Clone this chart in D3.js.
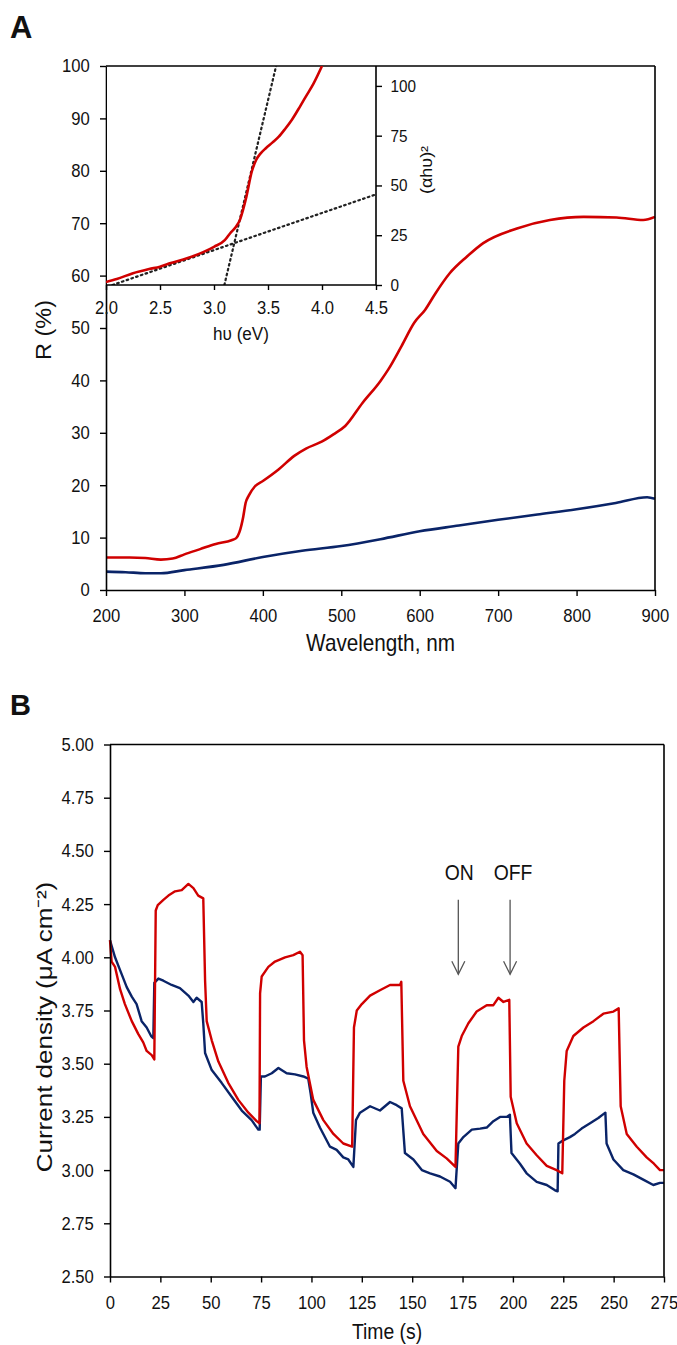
<!DOCTYPE html>
<html><head><meta charset="utf-8">
<script src="https://cdn.jsdelivr.net/npm/d3@7"></script>
<style>
html,body{margin:0;padding:0;background:#fff;}
svg{display:block;}
text{font-family:"Liberation Sans",Arial,sans-serif;fill:#111;}
</style></head>
<body>
<script>
// ---------- Panel A data ----------
const wlRed = [200,230,250,270,285,300,320,340,360,366,370,375,378,382,390,400,420,440,455,475,490,505,527,550,560,577,593,607,620,638,660,681,724,766,809,851,885,900];
const rRed  = [6.2,6.2,6.1,5.8,6.0,6.8,7.8,8.8,9.5,9.9,11,14,16.6,18,19.8,20.8,23,25.6,27,28.3,29.7,31.3,35.7,39.9,42.1,46.6,51,53.5,56.6,60.4,63.6,66.2,69,70.6,71.2,71.1,70.6,71.2];
const wlBlue = [200,225,250,270,300,350,400,450,500,550,600,650,700,750,800,850,890,900];
const rBlue  = [3.5,3.4,3.2,3.2,3.8,4.8,6.3,7.5,8.4,9.7,11.2,12.3,13.4,14.4,15.4,16.6,17.7,17.4];
const xTicksA = [200,300,400,500,600,700,800,900];
const yTicksA = [0,10,20,30,40,50,60,70,80,90,100];

// inset (Tauc plot)
const hvTauc = [2.0,2.1,2.25,2.4,2.5,2.6,2.75,2.9,3.0,3.1,3.15,3.2,3.24,3.27,3.3,3.35,3.39,3.43,3.48,3.54,3.6,3.66,3.72,3.8,3.85,3.92,4.0];
const tauc   = [1.5,3,5.9,8,9.2,11,13.4,16.5,19.2,22.5,26,29,32.7,38,44.4,57,62.8,66,68.7,71.5,74.5,78.5,82.9,90,94.6,101,110];
const fitSteep   = [[3.096,0],[3.575,110]];
const fitShallow = [[2.06,0],[4.5,45.5]];
const insetXTicks = [2.0,2.5,3.0,3.5,4.0,4.5];
const insetYTicks = [0,25,50,75,100];

// ---------- Panel B data ----------
const tRed = [0,0.8,2.5,5,7.4,10.8,14,16.5,18.2,20.7,22, 22.7,23.7,26.5,29,32.3,35.6,38.9,41.4,43.8,46.3, 47.2,48,50.5,53.8,58.7,63.7,68.7,72.8,74.2, 74.5,75.3,78.6,81.9,86.9,91,94.3,95.6, 96.3,97.6,100.9,105.9,110.9,115.8,120.2, 121.1,122.5,125,129.1,134,139,144,144.6, 145.6,148.9,155.5,162.2,167.1,171.5, 172.9,174.6,177.9,182,187,190.3,192.8,195.3,198.2, 198.9,201.9,206.8,211.8,216.8,221.7,224.5, 225.5,226.7,230,235,240,244.9,249.9,252.5, 253.5,256.5,261.5,266.4,270,273,275];
const vRed = [4.08,3.98,3.955,3.85,3.78,3.70,3.64,3.60,3.56,3.54,3.52, 4.22,4.245,4.27,4.29,4.31,4.316,4.345,4.325,4.29,4.277, 3.89,3.70,3.61,3.51,3.41,3.33,3.27,3.23,3.22, 3.83,3.91,3.955,3.98,4.00,4.01,4.026,4.01, 3.61,3.485,3.33,3.235,3.17,3.125,3.11, 3.67,3.75,3.78,3.82,3.845,3.87,3.87,3.885, 3.42,3.30,3.17,3.09,3.055,3.015, 3.58,3.63,3.69,3.745,3.775,3.775,3.81,3.79,3.80, 3.345,3.22,3.125,3.07,3.02,3.00,2.985, 3.42,3.56,3.63,3.67,3.70,3.735,3.745,3.76, 3.30,3.17,3.11,3.06,3.03,3.00,3.00];
const tBlue = [0,2.5,5,8.3,10.8,13.2,15.7,18.2,20.4,21.5, 22,24,26.5,30.6,34.7,38.9,41.4,43,45.5, 46.3,47.2,50.5,55.4,60.4,65.4,70.3,73.6,74.3, 74.9,76.9,80.3,83.6,87.7,91.8,96,98.4, 99.6,100.9,104.2,109.2,112.5,115.8,118.3,120.8, 122.1,124.1,129.1,134,139,142.3,144.8, 146.4,150.6,154.8,158.9,163.8,168.8,171.5, 172.9,175.4,179.6,183.7,187,190.3,193.6,196.9,198.5, 199.3,203.5,206.8,211.8,216.8,220.9,222.2, 222.6,225,228.3,230.8,234.1,238.3,242.4,245.9, 246.5,249.9,254.8,259.8,264.7,269.7,273,275];
const vBlue = [4.08,4.00,3.94,3.86,3.815,3.78,3.70,3.67,3.63,3.62, 3.88,3.90,3.89,3.87,3.855,3.82,3.79,3.81,3.79, 3.69,3.55,3.47,3.41,3.345,3.28,3.235,3.19,3.19, 3.44,3.44,3.455,3.48,3.455,3.45,3.44,3.43, 3.36,3.27,3.20,3.11,3.095,3.06,3.05,3.015, 3.235,3.27,3.30,3.28,3.32,3.305,3.29, 3.08,3.05,3.00,2.985,2.97,2.945,2.915, 3.125,3.155,3.19,3.195,3.20,3.23,3.25,3.25,3.26, 3.08,3.03,2.985,2.945,2.93,2.905,2.90, 3.125,3.14,3.155,3.17,3.195,3.22,3.245,3.27, 3.125,3.05,3.00,2.98,2.955,2.93,2.94,2.94];
const xTicksB = [0,25,50,75,100,125,150,175,200,225,250,275];
const yTicksB = [2.50,2.75,3.00,3.25,3.50,3.75,4.00,4.25,4.50,4.75,5.00];
const arrowLabels = ["ON","OFF"];
const arrowTimes = [172.9,198.6];
const arrowFrom = 4.27, arrowTo = 3.92, arrowLabelV = 4.363;

const RED = "#d00000", BLUE = "#0a2468";
const SQ = 0.9; // horizontal squeeze of the original lettering

const svg = d3.select("body").append("svg").attr("width",677).attr("height",1345);
svg.append("rect").attr("width",677).attr("height",1345).attr("fill","#fff");

function styleAxis(g, fs){
  g.selectAll("path.domain").attr("stroke","#000").attr("stroke-width",1.6);
  g.selectAll(".tick line").attr("stroke","#000").attr("stroke-width",1.4);
  g.selectAll(".tick text").attr("font-size",fs).attr("fill","#111")
   .attr("font-family",'"Liberation Sans",Arial,sans-serif')
   .attr("transform",`scale(${SQ},1)`);
}
function label(x,y,txt,fs,opts={}){
  const rot = opts.rotate ? " rotate(-90)" : "";
  return svg.append("text").attr("transform",`translate(${x},${y}) scale(${opts.sq||SQ},1)${rot}`)
    .attr("text-anchor",opts.anchor||"middle").attr("font-size",fs)
    .attr("font-weight",opts.bold?"bold":null).attr("fill",opts.fill||"#111").text(txt);
}

// ================= Panel A =================
const A = {l:106, r:655, t:66, b:590};
const xA = d3.scaleLinear().domain([200,900]).range([A.l,A.r]);
const yA = d3.scaleLinear().domain([0,100]).range([A.b,A.t]);

label(10,38,"A",31,{anchor:"start",bold:true,fill:"#000",sq:1});

const lineA = d3.line().x(d=>xA(d[0])).y(d=>yA(d[1])).curve(d3.curveMonotoneX);
svg.append("path").datum(d3.zip(wlBlue,rBlue)).attr("d",lineA).attr("fill","none").attr("stroke",BLUE).attr("stroke-width",2.6).attr("stroke-linejoin","round");
svg.append("path").datum(d3.zip(wlRed,rRed)).attr("d",lineA).attr("fill","none").attr("stroke",RED).attr("stroke-width",2.6).attr("stroke-linejoin","round");

svg.append("line").attr("x1",A.l).attr("x2",A.r).attr("y1",A.t).attr("y2",A.t).attr("stroke","#000").attr("stroke-width",1.6);
svg.append("line").attr("x1",A.r).attr("x2",A.r).attr("y1",A.t).attr("y2",A.b).attr("stroke","#000").attr("stroke-width",1.6);

const gxA = svg.append("g").attr("transform",`translate(0,${A.b})`)
  .call(d3.axisBottom(xA).tickValues(xTicksA).tickSize(6).tickPadding(13).tickSizeOuter(0));
styleAxis(gxA,18.5);
const gyA = svg.append("g").attr("transform",`translate(${A.l},0)`)
  .call(d3.axisLeft(yA).tickValues(yTicksA).tickSize(6).tickPadding(12).tickSizeOuter(0));
styleAxis(gyA,18.5);

label((A.l+A.r)/2,651,"Wavelength, nm",23);
label(51,330,"R (%)",23.5,{rotate:true});

// ---- inset ----
const I = {l:106, r:376, t:66, b:285};
const xI = d3.scaleLinear().domain([2.0,4.5]).range([I.l,I.r]);
const yI = d3.scaleLinear().domain([0,110]).range([I.b,I.t]);
svg.append("rect").attr("x",I.l+1).attr("y",I.t+1).attr("width",I.r-I.l-1).attr("height",I.b-I.t-1).attr("fill","#fff");
svg.append("clipPath").attr("id","clipI").append("rect").attr("x",I.l).attr("y",I.t).attr("width",I.r-I.l).attr("height",I.b-I.t);
const lineI = d3.line().x(d=>xI(d[0])).y(d=>yI(d[1]));
const gI = svg.append("g").attr("clip-path","url(#clipI)");
[fitSteep,fitShallow].forEach(f=>{
  gI.append("path").datum(f).attr("d",lineI).attr("fill","none").attr("stroke","#222")
    .attr("stroke-width",2.2).attr("stroke-dasharray","1.6,3.4").attr("stroke-linecap","round");
});
gI.append("path").datum(d3.zip(hvTauc,tauc)).attr("d",lineI.curve(d3.curveMonotoneX)).attr("fill","none").attr("stroke",RED).attr("stroke-width",2.6).attr("stroke-linejoin","round");

const gxI = svg.append("g").attr("transform",`translate(0,${I.b})`)
  .call(d3.axisBottom(xI).tickValues(insetXTicks).tickFormat(d3.format(".1f")).tickSize(5).tickPadding(11).tickSizeOuter(0));
styleAxis(gxI,18.5);
const gyI = svg.append("g").attr("transform",`translate(${I.r},0)`)
  .call(d3.axisRight(yI).tickValues(insetYTicks).tickSize(6).tickPadding(10).tickSizeOuter(0));
styleAxis(gyI,17);
gyI.select("path.domain").attr("d",`M0,${I.t}V${I.b}`);
gxI.select("path.domain").attr("d",`M${I.l},0H${I.r}`);

label(241,340,"hυ (eV)",19);
label(432,170,"(αhυ)²",18,{rotate:true});

// ================= Panel B =================
const B = {l:110, r:664, t:744.5, b:1276.5};
const xB = d3.scaleLinear().domain([0,275]).range([B.l,B.r]);
const yB = d3.scaleLinear().domain([2.5,5]).range([B.b,B.t]);

label(10,715,"B",29,{anchor:"start",bold:true,fill:"#000",sq:1});

const lineB = d3.line().x(d=>xB(d[0])).y(d=>yB(d[1]));
svg.append("path").datum(d3.zip(tBlue,vBlue)).attr("d",lineB).attr("fill","none").attr("stroke",BLUE).attr("stroke-width",2.4).attr("stroke-linejoin","round");
svg.append("path").datum(d3.zip(tRed,vRed)).attr("d",lineB).attr("fill","none").attr("stroke",RED).attr("stroke-width",2.4).attr("stroke-linejoin","round");

svg.append("line").attr("x1",B.l).attr("x2",B.r).attr("y1",B.t).attr("y2",B.t).attr("stroke","#000").attr("stroke-width",1.6);
svg.append("line").attr("x1",B.r).attr("x2",B.r).attr("y1",B.t).attr("y2",B.b).attr("stroke","#000").attr("stroke-width",1.6);

const gxB = svg.append("g").attr("transform",`translate(0,${B.b})`)
  .call(d3.axisBottom(xB).tickValues(xTicksB).tickSize(6).tickPadding(13.5).tickSizeOuter(0));
styleAxis(gxB,18.5);
const gyB = svg.append("g").attr("transform",`translate(${B.l},0)`)
  .call(d3.axisLeft(yB).tickValues(yTicksB).tickFormat(d3.format(".2f")).tickSize(6).tickPadding(12).tickSizeOuter(0));
styleAxis(gyB,18.5);

label((B.l+B.r)/2,1339,"Time (s)",21.5);
label(52,1027,"Current density (μA cm⁻²)",26,{rotate:true,sq:0.88});

// ON / OFF arrows
arrowTimes.forEach((t,i)=>{
  const x = xB(t), y1 = yB(arrowFrom), y2 = yB(arrowTo);
  svg.append("line").attr("x1",x).attr("x2",x).attr("y1",y1).attr("y2",y2).attr("stroke","#555").attr("stroke-width",1.3);
  svg.append("path").attr("d",`M${x-6.5},${y2-13}L${x},${y2}L${x+6.5},${y2-13}`).attr("fill","none").attr("stroke","#555").attr("stroke-width",1.3);
  label(x+(i===0?1:3),yB(arrowLabelV),arrowLabels[i],22,{sq:0.88});
});
</script>
</body></html>
